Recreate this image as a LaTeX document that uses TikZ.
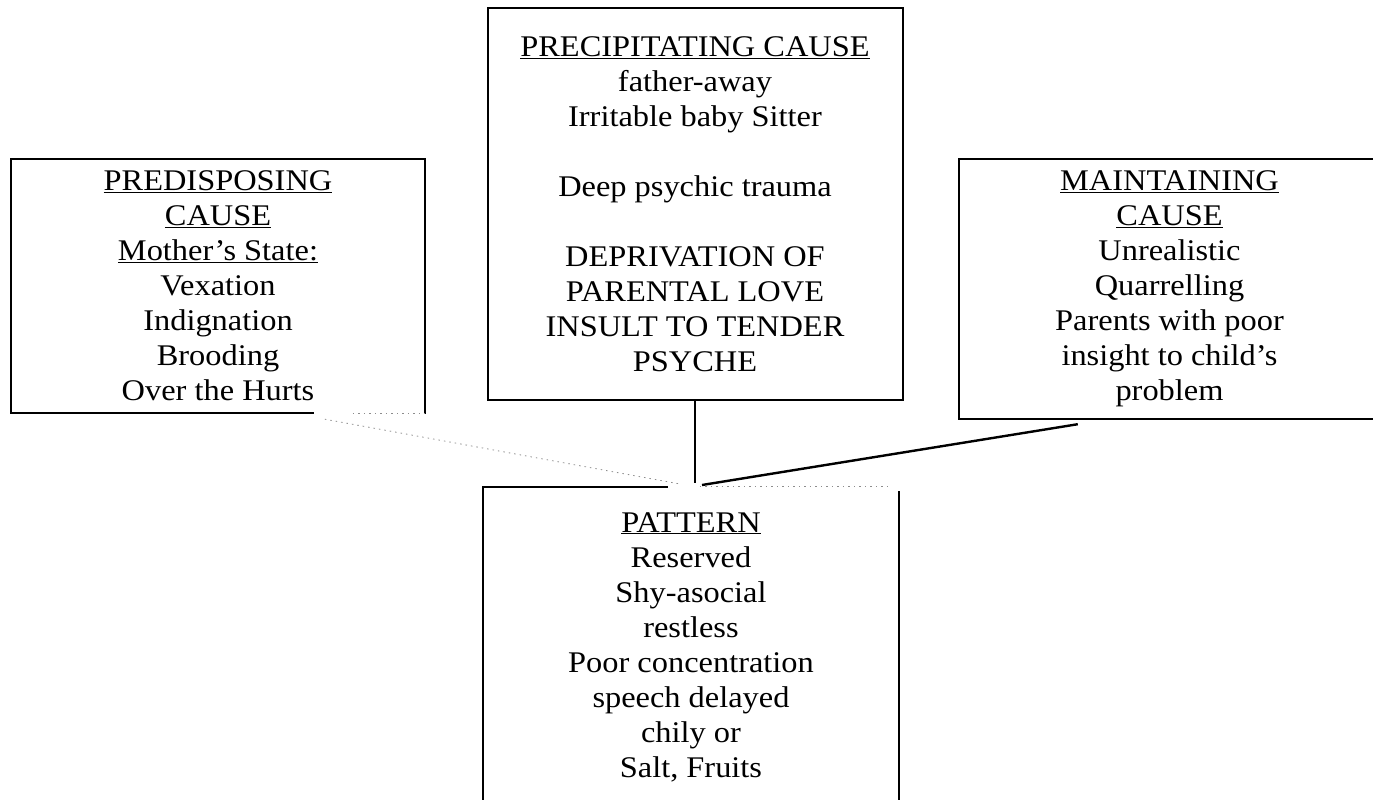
\documentclass[tikz,border=0pt]{standalone}
\usepackage{fontspec}
\setmainfont[FakeStretch=1.08]{Liberation Serif}
\usetikzlibrary{calc}
\begin{document}
\begin{tikzpicture}[x=1pt,y=-1pt,
  boxtxt/.style={align=center, font=\fontsize{30}{35}\selectfont, inner sep=0pt},
  border/.style={line width=2pt, line cap=rect},
  faint/.style={black!45, line width=0.8pt, dash pattern=on 1.5pt off 4pt},
  link/.style={line width=2pt}]
\useasboundingbox (0,0) rectangle (1373,800);
\clip (0,0) rectangle (1373,800);

% Predisposing cause
\node[boxtxt, minimum width=414pt, minimum height=254pt] (pred) at (218,286)
  {\underline{PREDISPOSING}\\ \underline{CAUSE}\\ \underline{Mother’s State:}\\ Vexation\\ Indignation\\ Brooding\\ Over the Hurts};
\draw[border] (pred.south west) -- (pred.north west) -- (pred.north east) -- (pred.south east);
\draw[border] (pred.south west) -- ($(pred.south west)+(302,0)$);
\draw[faint] ($(pred.south west)+(342,0)$) -- (pred.south east);

% Precipitating cause
\node[boxtxt, draw, border, minimum width=415pt, minimum height=392pt] (prec) at (695,204)
  {\underline{PRECIPITATING CAUSE}\\ father-away\\ Irritable baby Sitter\\ \mbox{}\\ Deep psychic trauma\\ \mbox{}\\ DEPRIVATION OF\\ PARENTAL LOVE\\ INSULT TO TENDER\\ PSYCHE};

% Maintaining cause
\node[boxtxt, minimum width=421pt, minimum height=260pt] (maint) at (1169.5,289)
  {\underline{MAINTAINING}\\ \underline{CAUSE}\\ Unrealistic\\ Quarrelling\\ Parents with poor\\ insight to child’s\\ problem};
\draw[border] (maint.north east) -- (maint.north west) -- (maint.south west) -- (maint.south east);

% Pattern
\node[minimum width=416pt, minimum height=340pt, inner sep=0pt] (pat) at (691,657) {};
\node[boxtxt] (pattxt) at (691,647)
  {\underline{PATTERN}\\ Reserved\\ Shy-asocial\\ restless\\ Poor concentration\\ speech delayed\\ chily or\\ Salt, Fruits};
\draw[border] (pat.south west) -- (pat.north west) -- ($(pat.north west)+(184,0)$);
\draw[border] ($(pat.north east)+(0,5)$) -- (pat.south east);
\draw[faint] ($(pat.north west)+(217,0)$) -- ($(pat.north east)+(-11,0)$);

% Connectors
\coordinate (pl) at ($(pred.south west)+(314,6)$);
\coordinate (pj) at (680,484);
\coordinate (cj) at (695,483);
\coordinate (rs) at ($(maint.south west)+(119,5)$);
\coordinate (rj) at (702,485);
\draw[faint] (pl) -- (pj);
\draw[link] (prec.south) -- (cj);
\draw[link, line width=2.4pt] (rs) -- (rj);
\end{tikzpicture}
\end{document}
